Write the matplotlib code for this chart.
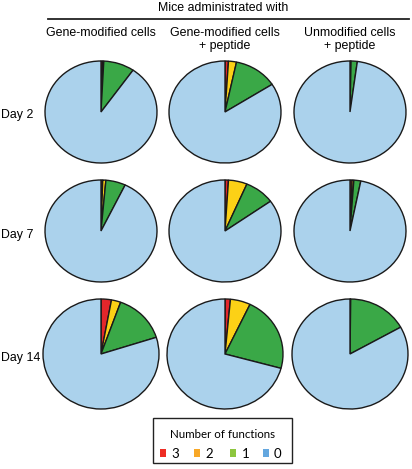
import matplotlib
matplotlib.use("Agg")
import matplotlib.pyplot as plt
from matplotlib.patches import Rectangle

# ---- data ----
days = ["Day 2", "Day 7", "Day 14"]
groups = ["Gene-modified cells", "Gene-modified cells\n+ peptide", "Unmodified cells\n+ peptide"]
function_levels = ["3", "2", "1", "0"]

# percentages for [3 functions, 2 functions, 1 function]; remainder = 0 functions
day2_three = [0.5, 1.0, 0.2]
day2_two = [0.3, 2.3, 0.1]
day2_one = [8.9, 12.6, 1.8]
day7_three = [0.5, 1.0, 0.6]
day7_two = [0.9, 5.4, 0.5]
day7_one = [5.7, 8.7, 2.0]
day14_three = [2.9, 1.5, 0.1]
day14_two = [2.6, 5.6, 0.1]
day14_one = [14.6, 22.1, 16.7]

rows = [
    (day2_three, day2_two, day2_one),
    (day7_three, day7_two, day7_one),
    (day14_three, day14_two, day14_one),
]

pie_colors = ["#e4262b", "#fcd116", "#3aa847", "#abd2ec"]
legend_colors = ["#ee2d24", "#f8a827", "#8dc63f", "#64a7df"]

W, H = 412, 469
fig = plt.figure(figsize=(W / 100, H / 100), dpi=100)
fig.patch.set_facecolor("white")

ov = fig.add_axes([0, 0, 1, 1])
ov.set_xlim(0, W)
ov.set_ylim(H, 0)
ov.axis("off")

font = ["Liberation Sans", "DejaVu Sans"]
lfont = ["Lato", "DejaVu Sans"]
fs = 8.9

col_x = [101, 225, 350]
row_y = [112, 231, 354]
half_w = [56, 56, 58]
half_h = [51, 51, 55]

for r, (three, two, one) in enumerate(rows):
    for c in range(3):
        vals = [three[c], two[c], one[c]]
        vals.append(100 - sum(vals))
        cx, cy = col_x[c], row_y[r]
        w, h = half_w[r], half_h[r]
        ax = fig.add_axes([(cx - w) / W, 1 - (cy + h) / H, 2 * w / W, 2 * h / H])
        wedges, _ = ax.pie(vals, colors=pie_colors, startangle=90, counterclock=False,
                           wedgeprops=dict(edgecolor="#1a1a1a", linewidth=1.0))
        for wd in wedges:
            wd.set_clip_on(False)
        ax.set_aspect("auto")
        ax.set_xlim(-1, 1)
        ax.set_ylim(-1, 1)
        ax.axis("off")

# headers
ov.text(223, 8, "Mice administrated with", ha="center", va="center", fontsize=fs, family=font)
ov.plot([48, 409], [19.5, 19.5], color="#222222", lw=1.3)
for c, g in enumerate(groups):
    lines = g.split("\n")
    for k, line in enumerate(lines):
        ov.text(col_x[c], 33 + 13 * k, line, ha="center", va="center", fontsize=fs, family=font)

label_y = [115, 235, 358]
for r, d in enumerate(days):
    ov.text(1, label_y[r], d, ha="left", va="center", fontsize=fs, family=font)

# legend box
ov.add_patch(Rectangle((153, 418.5), 139, 44.5, fill=False, edgecolor="#222222", lw=1.0))
ov.text(222.5, 434, "Number of functions", ha="center", va="center", fontsize=8.3, family=lfont)
sq_x = [160.5, 194, 230.5, 263.5]
txt_x = [171, 205.5, 242, 274]
for i, lvl in enumerate(function_levels):
    ov.add_patch(Rectangle((sq_x[i], 449.5), 6, 8, facecolor=legend_colors[i], edgecolor="none"))
    ov.text(txt_x[i], 454.5, lvl, ha="left", va="center", fontsize=9.5, family=lfont)

fig.savefig("out.png", dpi=100)
